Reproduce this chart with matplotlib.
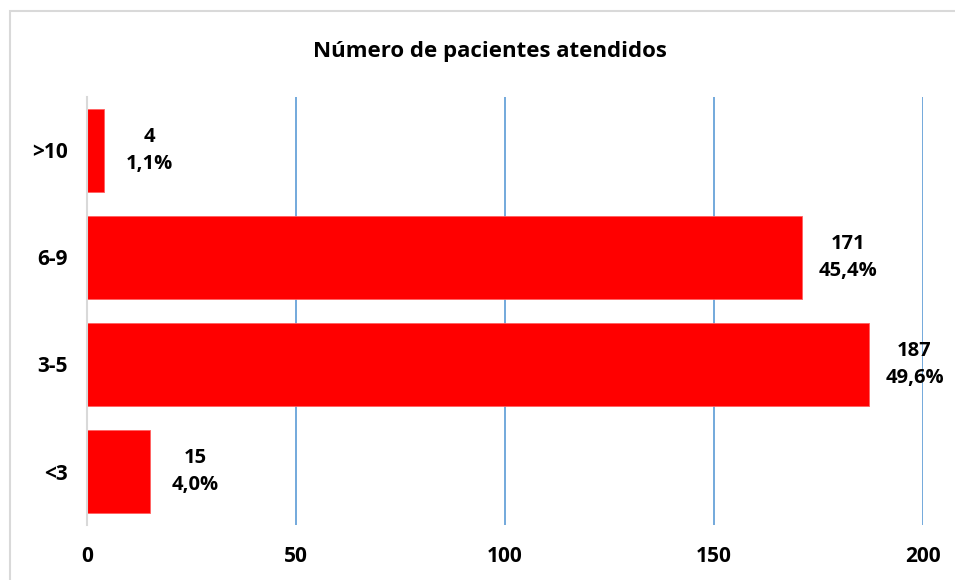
import matplotlib
matplotlib.use("Agg")
import matplotlib.pyplot as plt
from matplotlib.patches import Rectangle

categories = ["<3", "3-5", "6-9", ">10"]
values = [15, 187, 171, 4]
percents = ["4,0%", "49,6%", "45,4%", "1,1%"]
xticks = [0, 50, 100, 150, 200]
title = "Número de pacientes atendidos"

plt.rcParams['font.family'] = ['Open Sans', 'DejaVu Sans']

W, H = 955, 580
fig = plt.figure(figsize=(W / 100, H / 100), dpi=100)
fig.patches.append(Rectangle((9.5 / W, -0.1), 1.2, 1 - 10.5 / H + 0.1,
                             transform=fig.transFigure, fill=False,
                             edgecolor="#d9d9d9", linewidth=1.5))

ax = fig.add_axes([87 / W, 1 - 525 / H, (923 - 87) / W, (525 - 97) / H])
ypos = list(range(len(categories)))
ax.barh(ypos, values, height=0.77, color="#ff0000", edgecolor="#ff6060",
        linewidth=0.6, zorder=3)
for y, v, p in zip(ypos, values, percents):
    ax.annotate(f"{v}\n{p}", xy=(v, y), xytext=(33, 0), textcoords="offset points",
                ha="center", va="center", fontsize=14.5, fontweight="bold",
                linespacing=1.45, zorder=4)

ax.set_xlim(0, 200)
ax.set_ylim(-0.5, 3.5)
ax.set_xticks(xticks)
ax.set_xticklabels([str(t) for t in xticks], fontsize=15, fontweight="bold")
ax.set_yticks(ypos)
ax.set_yticklabels(categories, fontsize=15, fontweight="bold")
ax.tick_params(axis="both", length=0)
ax.tick_params(axis="x", pad=15)
ax.tick_params(axis="y", pad=14)
ax.xaxis.grid(True, color="#5b9bd5", linewidth=1.2, zorder=0)
ax.set_axisbelow(True)
for s in ["top", "right", "bottom"]:
    ax.spines[s].set_visible(False)
ax.spines["left"].set_color("#d9d9d9")
ax.spines["left"].set_linewidth(1.5)
ax.spines["left"].set_zorder(5)

fig.text(490 / W, 1 - 51 / H, title, ha="center", va="center",
         fontsize=16, fontweight="bold")

fig.savefig("out.png", dpi=100)
